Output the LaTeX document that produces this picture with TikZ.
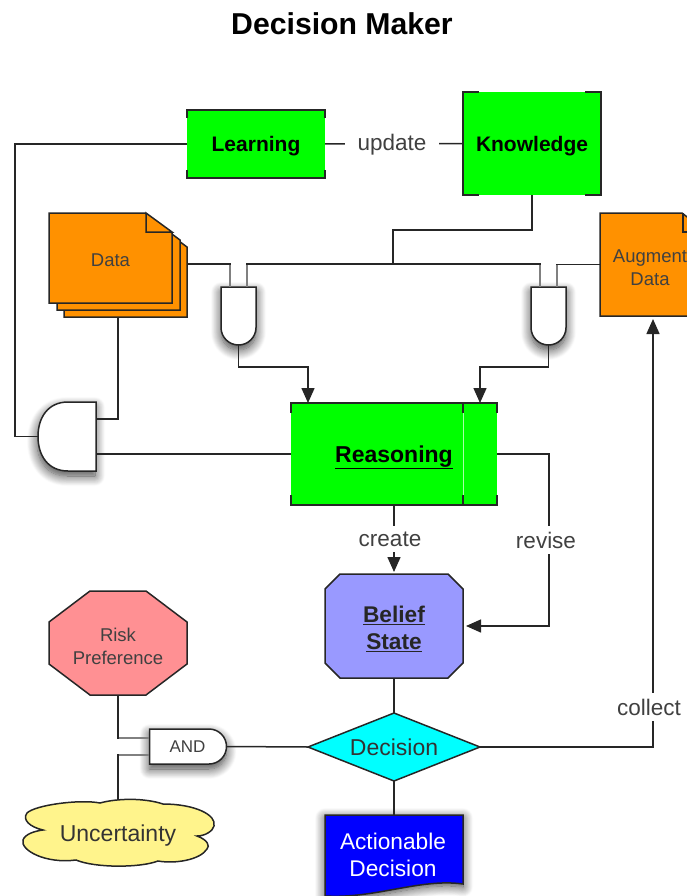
\documentclass[tikz,border=0pt]{standalone}
\usepackage{fontspec}
\setmainfont{Liberation Sans}
\usetikzlibrary{positioning,calc,arrows.meta,shapes.misc,shapes.geometric,shadows.blur}
\definecolor{boxgreen}{RGB}{0,255,0}
\definecolor{docorange}{RGB}{255,145,0}
\definecolor{riskred}{RGB}{255,144,147}
\definecolor{beliefblue}{RGB}{153,153,255}
\definecolor{cloudyellow}{RGB}{255,244,140}
\definecolor{decisioncyan}{RGB}{0,255,255}
\definecolor{actionblue}{RGB}{0,0,255}
\newcommand{\fs}[2]{\fontsize{#1}{#2}\selectfont}
\newcommand{\boxmarks}[3]{
\draw[wire] (#1.north west) ++(0,#3) -- ++(0,-#3) -- ++(#2,0);
\draw[wire] (#1.north east) ++(0,#3) -- ++(0,-#3) -- ++(-#2,0);
\draw[wire] (#1.south west) ++(0,-#3) -- ++(0,#3) -- ++(#2,0);
\draw[wire] (#1.south east) ++(0,-#3) -- ++(0,#3) -- ++(-#2,0);
}
\newcommand{\octagon}[4]{
\draw[outline, fill=#4] ($(#1.north west)+(#2,0)$) -- ($(#1.north east)+(-#2,0)$) -- ($(#1.north east)+(0,#3)$) -- ($(#1.south east)+(0,-#3)$) -- ($(#1.south east)+(-#2,0)$) -- ($(#1.south west)+(#2,0)$) -- ($(#1.south west)+(0,-#3)$) -- ($(#1.north west)+(0,#3)$) -- cycle;
}
\newcommand{\docpage}[3]{
\draw[outline, fill=docorange] (#1.north west) -- ($(#1.north east)+(-#2,0)$) -- ($(#1.north east)+(0,#3)$) -- (#1.south east) -- (#1.south west) -- cycle;
}
\tikzset{
wire/.style={black!85, line width=1.5pt},
outline/.style={draw=black!85, line width=1.5pt},
stub/.style={black!50, line width=2pt},
softshadow/.style 2 args={blur shadow={shadow xshift=#1, shadow yshift=#2, shadow blur radius=10pt, shadow blur steps=12, shadow opacity=75}},
frame/.style={rectangle, inner sep=0pt, outer sep=0pt},
greenbox/.style={frame, fill=boxgreen, text height=15.2pt, text depth=0pt, font=\fs{21}{25}\bfseries},
doctext/.style={text=black!75, font=\fs{18.5}{23}, align=center},
gate/.style={rounded rectangle, draw=black!85, line width=1.5pt, fill=white, inner sep=0pt, outer sep=0pt},
edgelabel/.style={fill=white, inner xsep=2pt, inner ysep=6pt, text=black!75, font=\fs{22.5}{26}},
}
\begin{document}
\begin{tikzpicture}[x=1pt, y=-1pt, >={Triangle[length=15pt,width=13pt]}]
\useasboundingbox (0,0) rectangle (686,896);
\node[font=\fs{30.2}{34}\bfseries] (title) at (342,24) {Decision Maker};
% boxes
\node[greenbox, minimum width=138pt, minimum height=68pt] (learning) at (256,144) {Learning};
\draw[wire] (learning.north west) -- (learning.north east);
\draw[wire] (learning.south west) -- (learning.south east);
\boxmarks{learning}{5}{8}
\node[greenbox, minimum width=138pt, minimum height=103pt] (knowledge) at (532,143.5) {Knowledge};
\boxmarks{knowledge}{16}{51.5}
\node[greenbox, text height=16.6pt, font=\fs{23}{27}\bfseries, minimum width=206pt, minimum height=102pt] (reasoning) at (394,454) {\underline{Reasoning}};
\coordinate (rsplit) at (463,403);
\coordinate (rsplitb) at (463,505);
\draw[green!35!white, line width=1pt] (rsplit) -- (rsplitb);
\draw[wire] (rsplit) -- ++(0,10);
\draw[wire] (rsplitb) -- ++(0,-10);
\boxmarks{reasoning}{103}{10}
% documents
\node[frame, minimum width=123pt, minimum height=90pt] (datac) at (125.5,272) {};
\node[frame, minimum width=123pt, minimum height=90pt] (datab) at (118.5,265) {};
\node[frame, minimum width=123pt, minimum height=90pt] (data) at (110.5,258) {};
\docpage{datac}{27}{20}
\docpage{datab}{27}{20}
\docpage{data}{27}{20}
\draw[outline, fill=docorange] (146,213) -- (146,232) -- (172,232) -- cycle;
\node[doctext, yshift=-2.5pt] (datatext) at (data) {Data};
\node[frame, minimum width=100pt, minimum height=103pt] (augment) at (650,264.5) {};
\docpage{augment}{18}{14}
\draw[outline] (683,213) -- (683,232) -- (690,232);
\node[doctext, yshift=-3pt] (augmenttext) at (augment) {Augment\\Data};
\node[frame, minimum width=138pt, minimum height=104pt] (belief) at (394,626) {};
\octagon{belief}{15}{15}{beliefblue}
\node[font=\fs{22.7}{27}\bfseries, align=center, text=black!85, yshift=-3pt] (belieftext) at (belief) {\underline{Belief}\\\underline{State}};
\node[frame, minimum width=138pt, minimum height=104pt] (risk) at (118,643) {};
\octagon{risk}{41}{31}{riskred}
\node[doctext, yshift=-3pt] (risktext) at (risk) {Risk\\Preference};
\node[diamond, aspect=2.53, draw=black!85, line width=1.5pt, fill=decisioncyan, minimum width=172pt, minimum height=68pt, inner sep=0pt, outer sep=0pt, font=\fs{23}{27}, text=black!80] (decision) at (394,747) {Decision};
% uncertainty
\node[frame, minimum width=191pt, minimum height=66pt] (uncertainty) at (118,833) {};
\draw[outline, fill=cloudyellow] (100,803) .. controls (118,798) and (145,798) .. (163,804)
  .. controls (195,804) and (217,815) .. (214,826)
  .. controls (213,831) and (205,836) .. (197,836)
  .. controls (208,840) and (210,846) .. (207,849)
  .. controls (200,860) and (175,864) .. (158,861)
  .. controls (140,868) and (95,868) .. (76,860)
  .. controls (45,864) and (20,850) .. (23,840)
  .. controls (25,834) and (35,831) .. (43,830)
  .. controls (30,827) and (22,820) .. (27,813)
  .. controls (35,805) and (80,799) .. (100,803) -- cycle;
\node[font=\fs{23}{27}, text=black!80, yshift=-3pt] (uncertaintytext) at (uncertainty) {Uncertainty};
% actionable decision
\node[frame, minimum width=138pt, minimum height=81pt] (action) at (394,855.5) {};
\draw[outline, fill=actionblue, softshadow={0pt}{-3pt}] (action.north west) -- (action.north east) -- ($(action.south east)+(0,-12)$) .. controls (420,878) and (375,899) .. (action.south west) -- cycle;
\node[text=white, font=\fs{22.7}{27}, align=center] (actiontext) at (393,855) {Actionable\\Decision};
% gates
\node[gate, softshadow={0pt}{-5pt}, rotate=-90, rounded rectangle west arc=none, minimum width=58pt, minimum height=35pt] (gatea) at (238.5,316) {};
\node[gate, softshadow={0pt}{-5pt}, rotate=-90, rounded rectangle west arc=none, minimum width=58pt, minimum height=35pt] (gateb) at (548.5,316) {};
\node[frame, minimum width=58pt, minimum height=69pt] (gatec) at (67,436.5) {};
\draw[outline, fill=white, softshadow={-1pt}{-5pt}] (gatec.north east) -- ($(gatec.north east)+(-28,0)$) .. controls +(-20,0) and +(0,-19) .. (gatec.west) .. controls +(0,19) and +(-20,0) .. ($(gatec.south east)+(-28,0)$) -- (gatec.south east) -- cycle;
\node[gate, softshadow={0pt}{-5pt}, rounded rectangle west arc=none, minimum width=77pt, minimum height=35pt, font=\fs{17}{20}, text=black!75] (gated) at (187.5,746.5) {AND};
% connector ends
\coordinate (pina1) at (230,287);
\coordinate (pina2) at (247,287);
\coordinate (pinb1) at (540,287);
\coordinate (pinb2) at (557,287);
\coordinate (pinc1) at (96,419);
\coordinate (pinc2) at (96,454);
\coordinate (pind1) at (149,738);
\coordinate (pind2) at (149,755);
\coordinate (dataout) at (187,264);
\coordinate (datadown) at (118,317);
\coordinate (busjoin) at (393,264);
\coordinate (rina) at (308,403);
\coordinate (rinb) at (480,403);
\coordinate (augin) at (653,319);
% connectors
\draw[wire] (learning.west) -- ++(-172,0) |- (gatec.west);
\draw[wire] (learning.east) -- (knowledge.west);
\draw[wire] (knowledge.south) -- ++(0,35) -| (busjoin);
\draw[wire] (dataout) -| (pina1);
\draw[wire] (pina2) -- ++(0,-23) -| (pinb1);
\draw[wire] (pinb2) |- (augment.west);
\draw[wire, ->] (gatea.east) -- ++(0,22) -| (rina);
\draw[wire, ->] (gateb.east) -- ++(0,22) -| (rinb);
\draw[wire] (datadown) |- (pinc1);
\draw[wire] (reasoning.west) -- (pinc2);
\draw[wire, ->, shorten >=2pt] (reasoning.south) -- (belief.north);
\draw[wire, ->, shorten >=3pt] (reasoning.east) -- ++(52,0) |- (belief.east);
\draw[wire] (belief.south) -- (decision.north);
\draw[wire] (decision.south) -- (action.north);
\draw[wire, ->] (decision.east) -| (augin);
\draw[wire] (gated.east) -- (decision.west);
\draw[wire] (risk.south) |- (pind1);
\draw[wire] (uncertainty.north) |- (pind2);
\foreach \p in {pina1,pina2,pinb1,pinb2}
  \draw[stub] (\p) -- ++(0,-22);
\foreach \p in {pind1,pind2}
  \draw[stub] (\p) -- ++(-30,0);
% labels
\node[edgelabel, inner xsep=13pt] (update) at (392,145) {update};
\node[edgelabel] (create) at (390,539) {create};
\node[edgelabel] (revise) at (546,540) {revise};
\node[edgelabel] (collect) at (649,707) {collect};
\end{tikzpicture}
\end{document}
